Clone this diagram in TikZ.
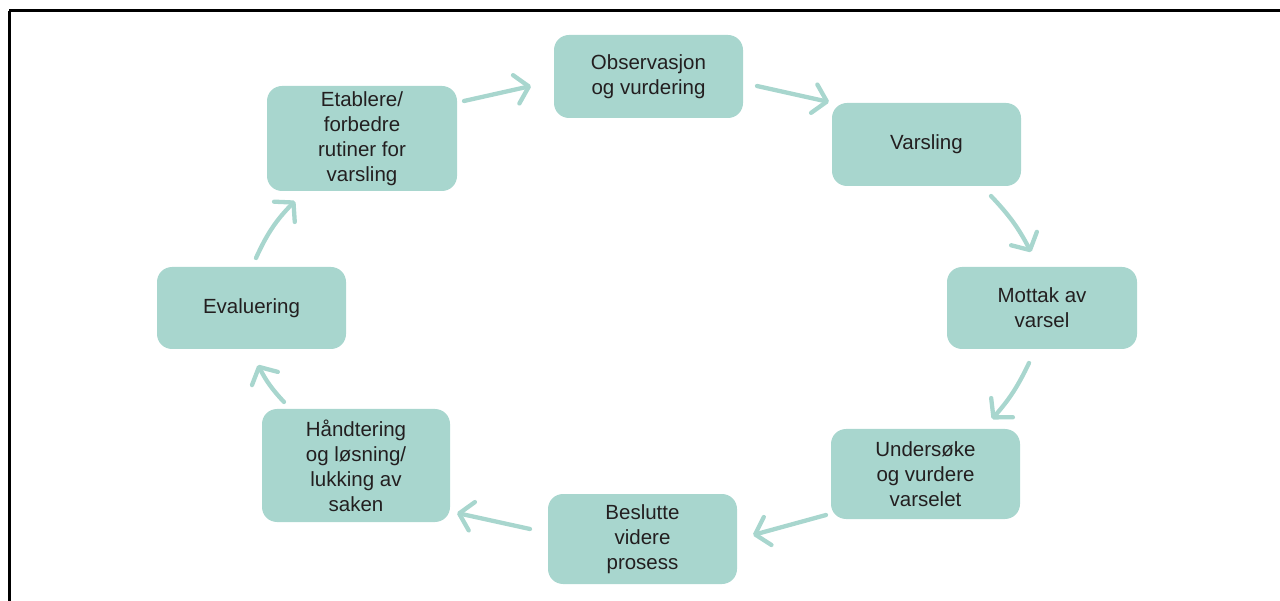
\documentclass[tikz,border=0pt]{standalone}
\usepackage{fontspec}
\setmainfont{Liberation Sans}
\usetikzlibrary{arrows.meta}
\definecolor{boxteal}{RGB}{168,214,206}
\definecolor{txtgrey}{RGB}{35,31,32}
\begin{document}
\begin{tikzpicture}[x=1pt,y=-1pt,
  stage/.style={fill=boxteal, rounded corners=15pt, draw=none,
    text=txtgrey, align=center, inner sep=0pt,
    font=\fontsize{20.5}{25}\selectfont},
  flow/.style={draw=boxteal, line width=4.3pt, line cap=round,
    -{Straight Barb[length=13pt,width=29pt,round]}}]
\useasboundingbox (0,0) rectangle (1280,601);
% frame
\draw[line width=3pt] (9,11) -- (1280,11);
\draw[line width=3pt] (9,11) -- (9,601);
% stages
\node[stage, minimum width=189pt, minimum height=83pt]  (obs) at (648.5,76.5) {Observasjon\\og vurdering};
\node[stage, minimum width=189pt, minimum height=83pt]  (var) at (926.5,144.5) {Varsling};
\node[stage, minimum width=190pt, minimum height=82pt]  (mot) at (1042,308) {Mottak av\\varsel};
\node[stage, minimum width=189pt, minimum height=90pt]  (und) at (925.5,474) {Undersøke\\og vurdere\\varselet};
\node[stage, minimum width=189pt, minimum height=90pt]  (bes) at (642.5,539) {Beslutte\\videre\\prosess};
\node[stage, minimum width=188pt, minimum height=113pt] (han) at (356,465.5) {Håndtering\\og løsning/\\lukking av\\saken};
\node[stage, minimum width=189pt, minimum height=82pt]  (eva) at (251.5,308) {Evaluering};
\node[stage, minimum width=190pt, minimum height=105pt] (eta) at (362,138.5) {Etablere/\\forbedre\\rutiner for\\varsling};
% cycle arrows
\draw[flow] ([shift={(102,-37.5)}]eta.center) -- ([shift={(-117.5,9.5)}]obs.center);
\draw[flow] ([shift={(108.5,9.5)}]obs.center) -- ([shift={(-97.5,-42.5)}]var.center);
\draw[flow] ([shift={(64.5,51.5)}]var.center) to[bend left=8] ([shift={(-11,-56)}]mot.center);
\draw[flow] ([shift={(-13,55)}]mot.center) to[bend left=8] ([shift={(66.5,-55)}]und.center);
\draw[flow] ([shift={(-99.5,41)}]und.center) -- ([shift={(110.5,-4)}]bes.center);
\draw[flow] ([shift={(-112.5,-10)}]bes.center) -- ([shift={(101,47.5)}]han.center);
\draw[flow] ([shift={(-72,-63.5)}]han.center) to[bend left=8] ([shift={(6.5,57)}]eva.center);
\draw[flow] ([shift={(4.5,-50)}]eva.center) to[bend left=10] ([shift={(-67,62.5)}]eta.center);
\end{tikzpicture}
\end{document}
